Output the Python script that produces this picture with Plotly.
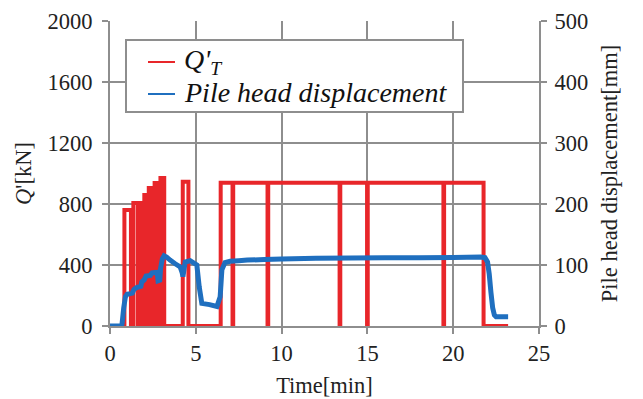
import plotly.graph_objects as go

# Load Q'_T [kN]: periods during which the load is applied (start, end, level)
load_start = [0.84, 1.36, 1.76, 1.84, 1.92, 2.00, 2.08, 2.16, 2.26, 2.34, 2.42, 2.50,
              2.60, 2.68, 2.76, 2.84, 2.94, 3.02, 3.10, 4.24, 6.45, 7.18, 9.22,
              13.42, 15.02, 19.47]
load_end = [1.22, 1.62, 1.80, 1.88, 1.96, 2.04, 2.12, 2.20, 2.30, 2.38, 2.46, 2.54,
            2.64, 2.72, 2.80, 2.88, 2.98, 3.06, 3.16, 4.57, 7.14, 9.18, 13.38,
            14.98, 19.43, 21.77]
load_level = [761, 806, 806, 806, 806, 859, 859, 859, 905, 905, 905, 905,
              938, 938, 938, 938, 970, 970, 970, 946, 940, 940, 940,
              940, 940, 940]
load_t_first = 0.75
load_t_last = 23.2

# Pile head displacement [mm]
disp_t = [0, 0.6, 0.7, 0.8, 0.9, 1.0, 1.3, 1.4, 1.55, 1.8, 1.85, 2.0, 2.1, 2.35,
          2.45, 2.75, 2.8, 2.9, 2.95, 3.05, 3.15, 3.3, 3.5, 3.8, 4.09, 4.2, 4.25,
          4.38, 4.67, 5.06, 5.2, 5.35, 5.8, 6.23, 6.42, 6.52, 6.7, 7.0, 7.5, 8.0,
          9.0, 10, 12, 14, 16, 18, 20, 21.6, 21.85, 22.0, 22.1, 22.2, 22.3, 22.4,
          22.5, 23.2]
disp_mm = [0, 0, 3, 30, 48, 52, 54, 60, 63, 65, 72, 76, 82, 83,
           87, 88, 74, 75, 95, 110, 115, 113, 108, 102, 97, 88, 81,
           105, 107, 100, 64, 37, 35, 32, 48, 92, 104, 106, 107, 108,
           109, 110, 111, 111.5, 112, 112, 112.5, 113, 112, 105, 85, 55, 30, 18,
           15, 15]

x_ticks = [0, 5, 10, 15, 20, 25]
y_ticks = [0, 400, 800, 1200, 1600, 2000]
y2_ticks = [0, 100, 200, 300, 400, 500]

legend_labels = ["<i>Q'<sub>T</sub></i>", "<i>Pile head displacement</i>"]

# Build the step path of the load signal
load_t = [load_t_first]
load_q = [0]
for s, e, q in zip(load_start, load_end, load_level):
    load_t += [s, s, e, e]
    load_q += [0, q, q, 0]
load_t.append(load_t_last)
load_q.append(0)

GRID = "#8e8e8e"
RED = "#e8262a"
BLUE = "#1f6fbf"
FONT = "Liberation Serif"

fig = go.Figure()
fig.add_trace(go.Scatter(
    x=load_t, y=load_q, mode="lines", name=legend_labels[0], showlegend=False,
    line=dict(color=RED, width=4, simplify=False), yaxis="y",
))
fig.add_trace(go.Scatter(
    x=disp_t, y=disp_mm, mode="lines", name=legend_labels[1], showlegend=False,
    line=dict(color=BLUE, width=5, simplify=False),
    yaxis="y2",
))

axis_common = dict(
    showline=True, linecolor=GRID, linewidth=2,
    ticks="outside", ticklen=6, tickwidth=2, tickcolor=GRID,
    zeroline=False, automargin=False,
    tickfont=dict(family=FONT, size=22.5, color="#222"),
    title_font=dict(family=FONT, size=22.5, color="#222"),
)

# Framed key in the upper-left of the plot area (paper coordinates)
L, W, T, H = 110, 429, 21, 305


def px(x):
    return (x - L) / W


def py(y):
    return 1 - (y - T) / H


shapes = [dict(type="rect", xref="paper", yref="paper",
               x0=px(126), x1=px(463), y0=py(112), y1=py(40),
               line=dict(color=GRID, width=2), fillcolor="white", layer="above")]
annotations = []
for label, color, yrow in zip(legend_labels, [RED, BLUE], [62, 94]):
    shapes.append(dict(type="line", xref="paper", yref="paper",
                       x0=px(148), x1=px(175), y0=py(yrow), y1=py(yrow),
                       line=dict(color=color, width=2), layer="above"))
    annotations.append(dict(xref="paper", yref="paper", x=px(182), y=py(yrow - 1),
                            xanchor="left", yanchor="middle", showarrow=False,
                            text=label, font=dict(family=FONT, size=28, color="#111")))

fig.update_layout(
    width=643, height=399, autosize=False,
    margin=dict(l=L, r=643 - L - W, t=T, b=399 - T - H),
    paper_bgcolor="white", plot_bgcolor="white",
    font=dict(family=FONT, color="#222"),
    xaxis=dict(range=[0, 25], tickvals=x_ticks, showgrid=True, gridcolor=GRID,
               gridwidth=2, title=dict(text="Time[min]", standoff=12), **axis_common),
    yaxis=dict(range=[0, 2000], tickvals=y_ticks, showgrid=True, gridcolor=GRID,
               gridwidth=2, ticklabelstandoff=5,
               title=dict(text="<i>Q</i>'[kN]", standoff=10), **axis_common),
    yaxis2=dict(range=[0, 500], tickvals=y2_ticks, overlaying="y", side="right",
                showgrid=False, ticklabelstandoff=3,
                title=dict(text="Pile head displacement[mm]", standoff=14),
                **axis_common),
    shapes=shapes,
    annotations=annotations,
    showlegend=False,
)

fig.write_html("out.html")
